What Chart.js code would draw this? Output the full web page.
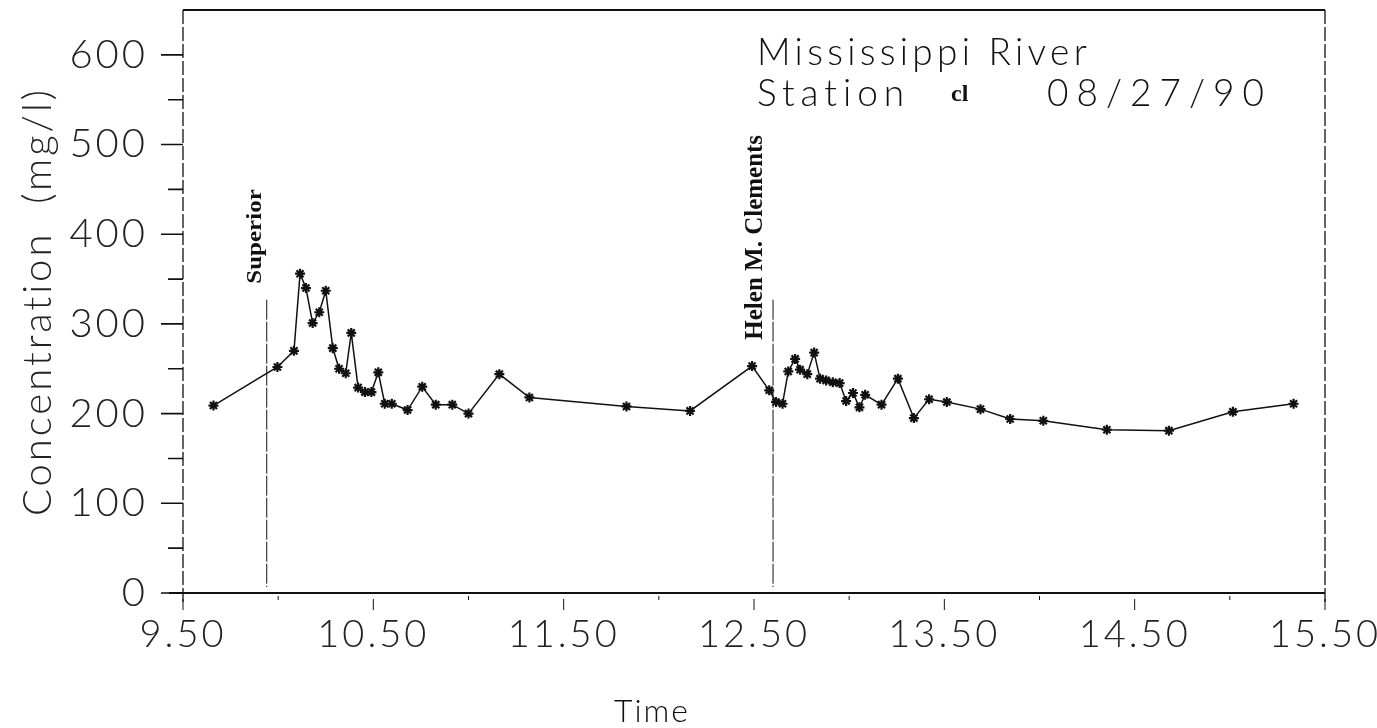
<!DOCTYPE html>
<html>
<head>
<meta charset="utf-8">
<script src="https://cdn.jsdelivr.net/npm/chart.js@4.4.1/dist/chart.umd.min.js"></script>
<style>
  html, body { margin: 0; padding: 0; background: #fff; }
  #wrap { width: 1377px; height: 728px; }
</style>
</head>
<body>
<div id="wrap"><canvas id="myChart" width="1377" height="728"></canvas></div>
<script>
const times = [9.66, 9.996, 10.083, 10.115, 10.146, 10.181, 10.216, 10.25, 10.287, 10.32, 10.355, 10.384,
    10.42, 10.456, 10.49, 10.526, 10.56, 10.597, 10.68, 10.757, 10.828, 10.915, 11.0, 11.162, 11.32,
    11.83, 12.164, 12.49, 12.58, 12.616, 12.65, 12.68, 12.716, 12.742, 12.78, 12.816, 12.847, 12.879,
    12.914, 12.95, 12.984, 13.02, 13.054, 13.084, 13.17, 13.256, 13.34, 13.42, 13.513, 13.69, 13.846,
    14.02, 14.354, 14.68, 15.016, 15.335];
const conc = [209, 252, 270, 356, 340, 301, 313, 337, 273, 250, 245, 290,
    229, 224, 224, 246, 211, 211, 204, 230, 210, 210, 200, 244, 218,
    208, 203, 253, 226, 213, 211, 247, 261, 249, 244, 268, 239, 237,
    235, 234, 214, 223, 207, 221, 210, 239, 195, 216, 213, 205, 194,
    192, 182, 181, 202, 211];
const xTicks = [9.5, 10.5, 11.5, 12.5, 13.5, 14.5, 15.5];
const yTicks = [0, 100, 200, 300, 400, 500, 600];
const events = ["Superior", "Helen M. Clements"];
const eventTimes = [9.94, 12.6];
const eventTops = [327, 327];
const titleLines = ["Mississippi River", "Station", "cl", "08/27/90"];
const xTitle = "Time";

const points = times.map((t, i) => ({x: t, y: conc[i]}));
const lightFont = "'Lato', 'DejaVu Sans', sans-serif";

// wide-spaced plotter-style lettering for the library's own texts
const spacing = {
    id: 'spacing',
    beforeDraw(chart) { chart.ctx.letterSpacing = '3px'; }
};

const frame = {
    id: 'frame',
    afterDraw(chart) {
        const c = chart.ctx, a = chart.chartArea;
        const xs = chart.scales.x, ys = chart.scales.y;
        c.save();
        c.letterSpacing = '0px';
        c.strokeStyle = '#111';
        c.lineWidth = 2;
        c.beginPath();
        c.moveTo(a.left, a.top); c.lineTo(a.right, a.top);
        c.moveTo(a.left - 14, a.bottom); c.lineTo(a.right, a.bottom);
        c.stroke();
        c.lineWidth = 1.3;
        c.setLineDash([14, 3]);
        c.beginPath();
        c.moveTo(a.left, a.top); c.lineTo(a.left, a.bottom + 12);
        c.moveTo(a.right, a.top); c.lineTo(a.right, a.bottom + 12);
        c.stroke();
        c.setLineDash([]);
        // tick marks: long at labelled values, short between
        c.lineWidth = 1.6;
        c.beginPath();
        ys.ticks.forEach(t => {
            const py = ys.getPixelForValue(t.value);
            const len = yTicks.includes(t.value) ? 22 : 15;
            c.moveTo(a.left - len, py); c.lineTo(a.left, py);
        });
        c.stroke();
        c.lineWidth = 1;
        c.beginPath();
        xs.ticks.forEach(t => {
            const px = xs.getPixelForValue(t.value);
            const major = xTicks.some(v => Math.abs(v - t.value) < 1e-6);
            c.moveTo(px, a.bottom + (major ? 6 : 3)); c.lineTo(px, a.bottom + (major ? 17 : 7));
        });
        c.stroke();
        // event lines + labels
        c.setLineDash([20, 2]);
        c.lineWidth = 1;
        const sizes = [20, 25];
        const stretch = [1.25, 1.0];
        const shifts = [6, 11];
        const drops = [-16, 40];
        events.forEach((name, i) => {
            const px = xs.getPixelForValue(eventTimes[i]);
            const top = ys.getPixelForValue(eventTops[i]);
            c.beginPath();
            c.moveTo(px, top); c.lineTo(px, a.bottom - 6);
            c.stroke();
            c.save();
            c.translate(px - shifts[i], top + drops[i]);
            c.rotate(-Math.PI / 2);
            c.scale(stretch[i], 1);
            c.fillStyle = '#111';
            c.font = "bold " + sizes[i] + "px 'Liberation Serif', serif";
            c.textAlign = 'left';
            c.textBaseline = 'alphabetic';
            c.fillText(name, 0, 0);
            c.restore();
        });
        c.setLineDash([]);
        // title block
        c.fillStyle = '#111';
        c.textBaseline = 'alphabetic';
        c.textAlign = 'left';
        c.font = "300 37px " + lightFont;
        c.letterSpacing = '4.3px';
        c.fillText(titleLines[0], 757, 65);
        c.letterSpacing = '6px';
        c.fillText(titleLines[1], 757, 106);
        c.letterSpacing = '8px';
        c.fillText(titleLines[3], 1047, 106);
        c.letterSpacing = '0px';
        c.font = "bold 24px 'Liberation Serif', serif";
        c.fillText(titleLines[2], 951, 101);
        // x axis title
        c.font = "300 32px " + lightFont;
        c.letterSpacing = '2px';
        c.textAlign = 'center';
        c.fillText(xTitle, 652, 722);
        c.restore();
    }
};

new Chart("myChart", {
    type: "scatter",
    data: {
        datasets: [{
            data: points,
            showLine: true,
            borderColor: '#111',
            borderWidth: 1.5,
            pointStyle: 'star',
            pointRadius: 5,
            pointBorderWidth: 2.2,
            pointBorderColor: '#111',
            pointBackgroundColor: '#111',
            tension: 0
        }]
    },
    options: {
        responsive: false,
        animation: false,
        layout: {padding: {top: 10, right: 52, left: 10, bottom: 0}},
        plugins: {legend: {display: false}, tooltip: {enabled: false}},
        scales: {
            x: {
                type: 'linear',
                min: 9.5, max: 15.5,
                afterBuildTicks: s => { s.ticks = []; for (let v = 9.5; v <= 15.501; v += 0.5) s.ticks.push({value: +v.toFixed(2)}); },
                afterFit: s => { s.height = 135; s.paddingRight = 0; s.paddingLeft = 0; },
                grid: {display: false, drawOnChartArea: false, drawTicks: false},
                border: {display: false},
                ticks: {
                    autoSkip: false, maxRotation: 0, padding: 19,
                    color: '#222',
                    font: {family: lightFont, size: 38, weight: 300},
                    callback: v => xTicks.some(t => Math.abs(t - v) < 1e-6) ? v.toFixed(2) : ''
                }
            },
            y: {
                min: 0, max: 650,
                afterBuildTicks: s => { s.ticks = []; for (let v = 0; v <= 600; v += 50) s.ticks.push({value: v}); },
                afterFit: s => { s.width = 173; s.paddingTop = 0; s.paddingBottom = 0; },
                grid: {display: false, drawOnChartArea: false, drawTicks: false},
                border: {display: false},
                ticks: {
                    autoSkip: false, padding: 35,
                    color: '#222',
                    font: {family: lightFont, size: 40, weight: 300},
                    callback: v => yTicks.includes(v) ? String(v) : ''
                },
                title: {display: true, text: 'Concentration  (mg/l)', color: '#222', padding: {bottom: 0},
                    font: {family: lightFont, size: 40, weight: 300}}
            }
        }
    },
    plugins: [spacing, frame]
});
</script>
</body>
</html>
